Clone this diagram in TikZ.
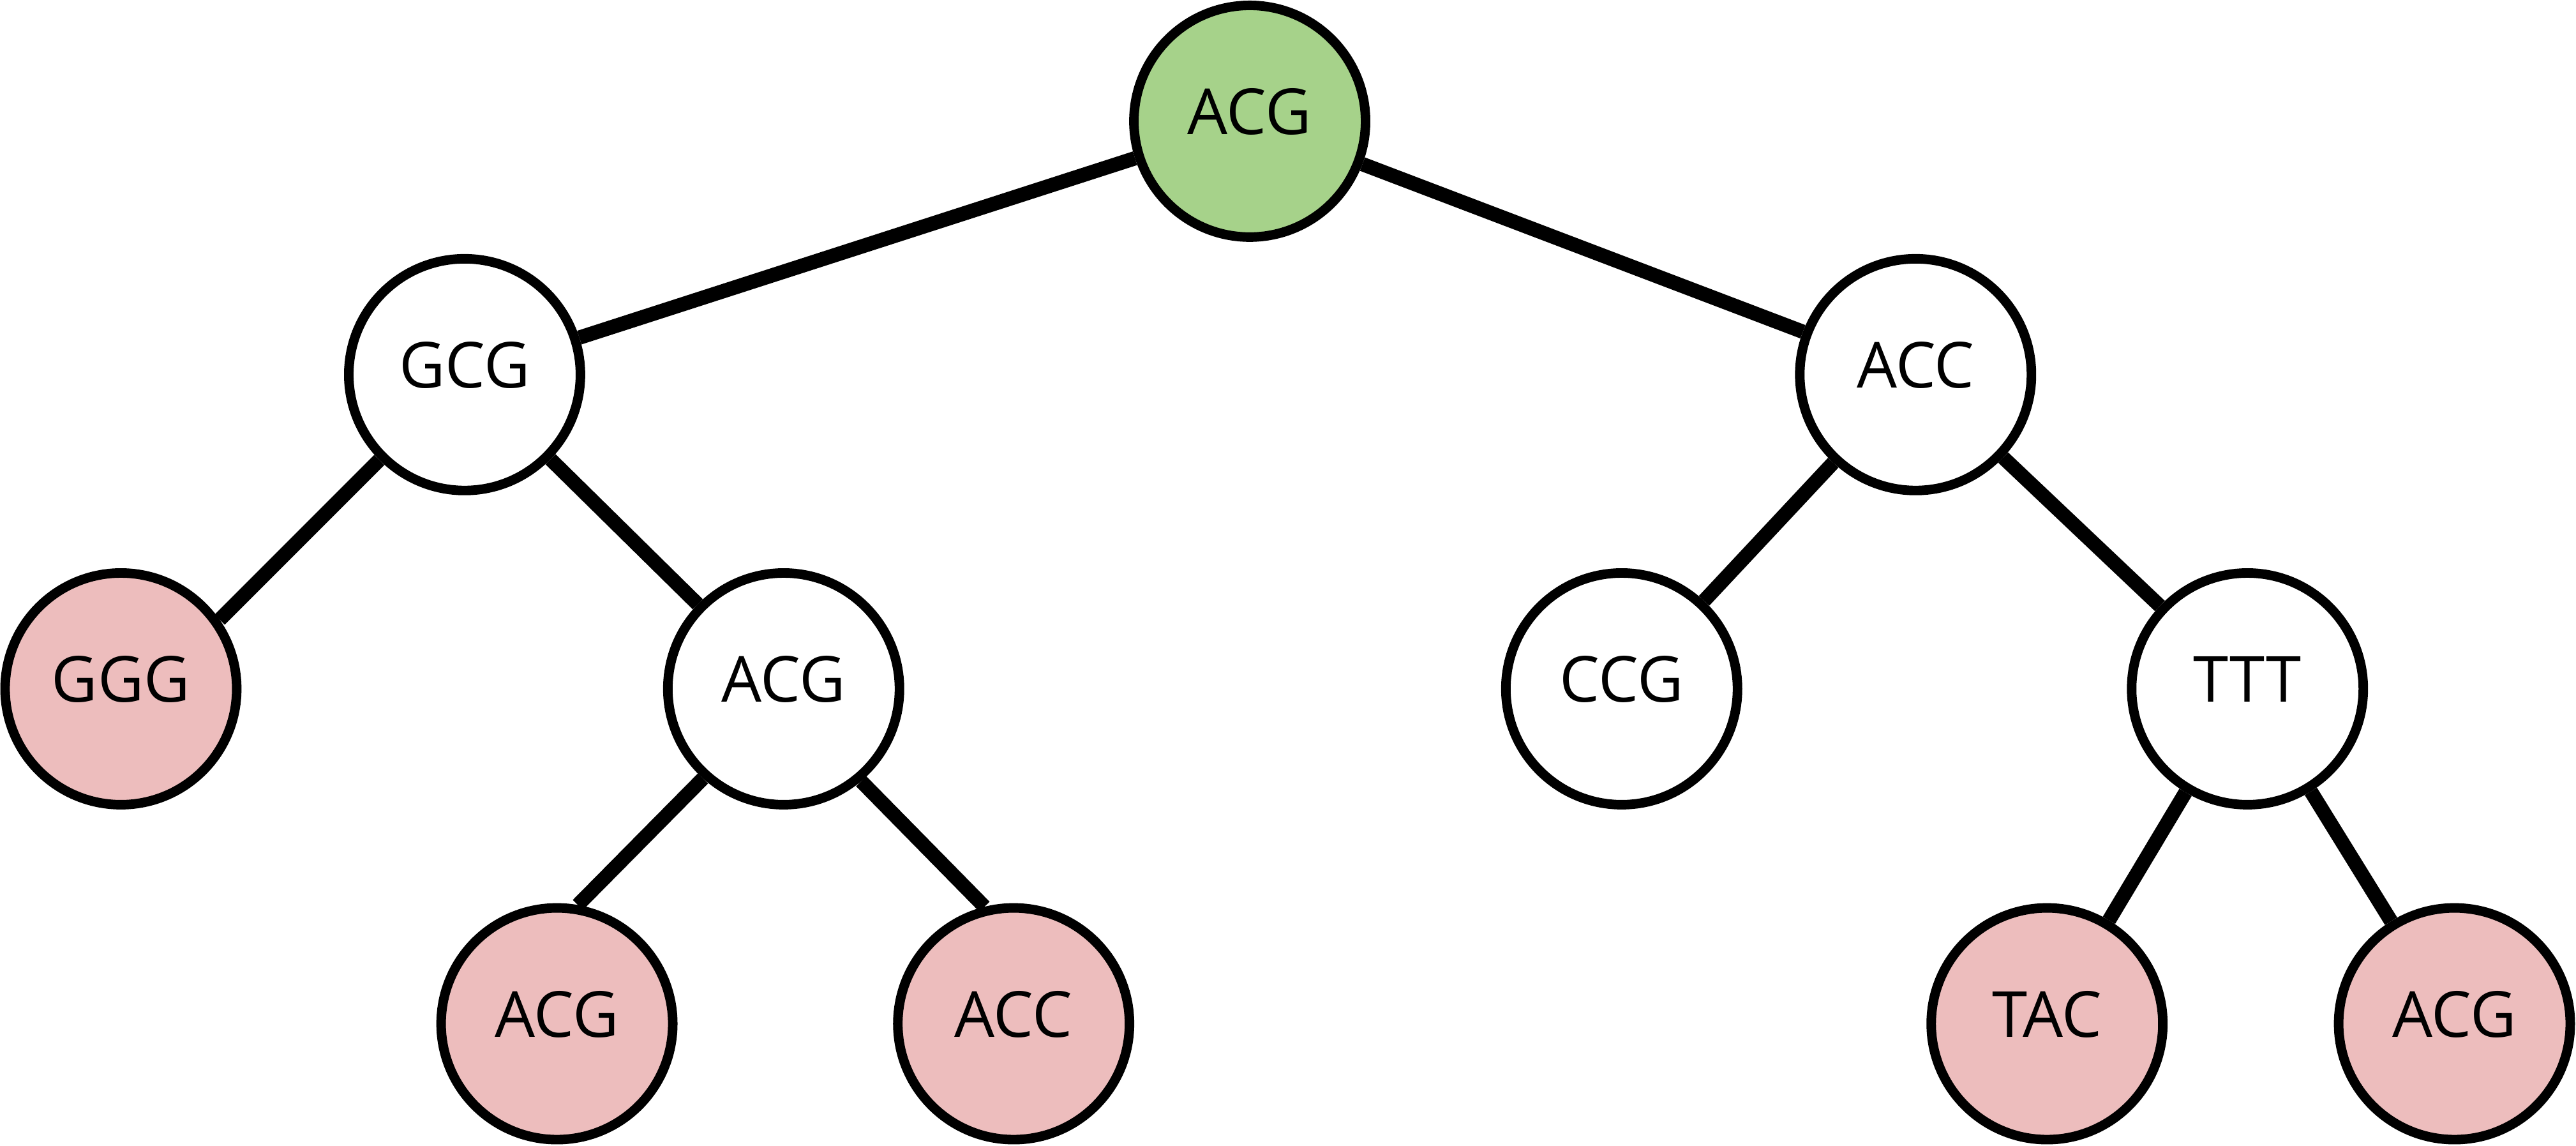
\documentclass[tikz,border=0pt]{standalone}
\usepackage{fontspec}
\newfontfamily\seqfont{Open Sans}
\definecolor{rootgreen}{HTML}{A6D28A}
\definecolor{leafpink}{HTML}{EDBDBD}

\begin{document}
\begin{tikzpicture}[seqnode/.style={shape=circle,draw=black,fill=white,line width=1.65pt,minimum size=1.41cm,inner sep=0pt,text depth=0.12cm,font=\seqfont\fontsize{11}{13}\selectfont},
 leafnode/.style={seqnode,fill=leafpink},
 rootnode/.style={seqnode,fill=rootgreen},
 branch/.style={line width=2.48pt}]
 \useasboundingbox (0,0) rectangle (15.68,6.97);
 \node (seq 1) at (7.607,6.232) [rootnode] {ACG};
 \node (seq 2) at (2.828,4.69) [seqnode] {GCG};
 \node (seq 3) at (11.66,4.69) [seqnode] {ACC};
 \node (seq 4) at (0.736,2.778) [leafnode] {GGG};
 \node (seq 5) at (4.77,2.778) [seqnode] {ACG};
 \node (seq 6) at (9.871,2.778) [seqnode] {CCG};
 \node (seq 7) at (13.68,2.778) [seqnode] {TTT};
 \node (seq 8) at (3.39,0.74) [leafnode] {ACG};
 \node (seq 9) at (6.17,0.74) [leafnode] {ACC};
 \node (seq 10) at (12.46,0.74) [leafnode] {TAC};
 \node (seq 11) at (14.94,0.74) [leafnode] {ACG};
 \draw[branch] (seq 1) -- (seq 2);
 \draw[branch] (seq 1) -- (seq 3);
 \draw[branch] (seq 2.225) -- (seq 4.35);
 \draw[branch] (seq 2) -- (seq 5);
 \draw[branch] (seq 5.228) -- (seq 8.80);
 \draw[branch] (seq 5.310) -- (seq 9.104);
 \draw[branch] (seq 3) -- (seq 6);
 \draw[branch] (seq 3) -- (seq 7);
 \draw[branch] (seq 7) -- (seq 10);
 \draw[branch] (seq 7) -- (seq 11);
\end{tikzpicture}
\end{document}
